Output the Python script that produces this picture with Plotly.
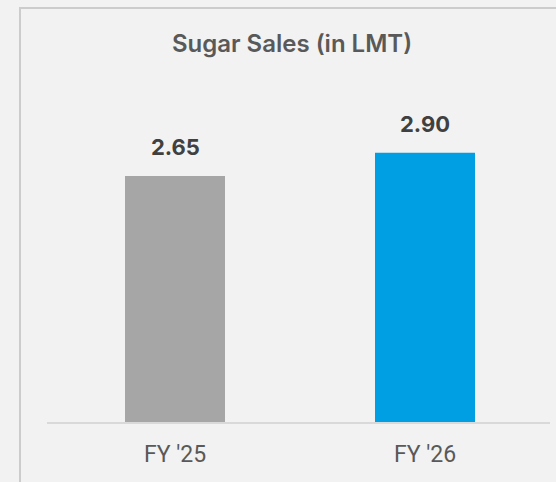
import plotly.graph_objects as go

categories = ["FY '25", "FY '26"]
values = [2.65, 2.90]
labels = ["2.65", "2.90"]
bar_colors = ["#a6a6a6", "#009fe3"]

W, H = 556, 482
L, R, T, B = 47, 6, 60, 60
pw = W - L - R
ph = H - T - B

def px_x(px):
    return (px - L) / pw

def px_y(py):
    return (H - B - py) / ph

fig = go.Figure()
fig.add_trace(go.Bar(
    x=categories, y=values, marker=dict(color=bar_colors, line=dict(width=0)),
    width=0.4, hoverinfo="skip",
))

for c, v, t in zip(categories, values, labels):
    fig.add_annotation(x=c, y=v, text=t, showarrow=False, yanchor="bottom",
                       yshift=14,
                       font=dict(family="Inter", size=22, color="#404040", weight=700))

fig.add_shape(type="rect", xref="paper", yref="paper",
              x0=px_x(20), x1=px_x(600), y0=px_y(600), y1=px_y(8),
              line=dict(color="#cccccc", width=2), fillcolor="rgba(0,0,0,0)", layer="below")

fig.update_layout(
    width=W, height=H,
    margin=dict(l=L, r=R, t=T, b=B, pad=0),
    paper_bgcolor="#f2f2f2", plot_bgcolor="#f2f2f2",
    showlegend=False,
    title=dict(text="Sugar Sales (in LMT)", x=(292) / W, xanchor="center",
               y=1 - 44 / H, yanchor="middle",
               font=dict(family="Inter", size=24, color="#595959", weight=600)),
    xaxis=dict(range=[-0.512, 1.5], showgrid=False, zeroline=False,
               showline=True, linecolor="#d9d9d9", linewidth=2,
               ticks="", tickfont=dict(family="Roboto", size=23, color="#595959"),
               ticklabelstandoff=10),
    yaxis=dict(range=[0, 3.9], visible=False, showgrid=False, zeroline=False),
)

fig.write_html(
    "out.html",
    config={"displayModeBar": False},
    post_script="document.body.style.margin='0';document.body.style.background='#f2f2f2';",
)
